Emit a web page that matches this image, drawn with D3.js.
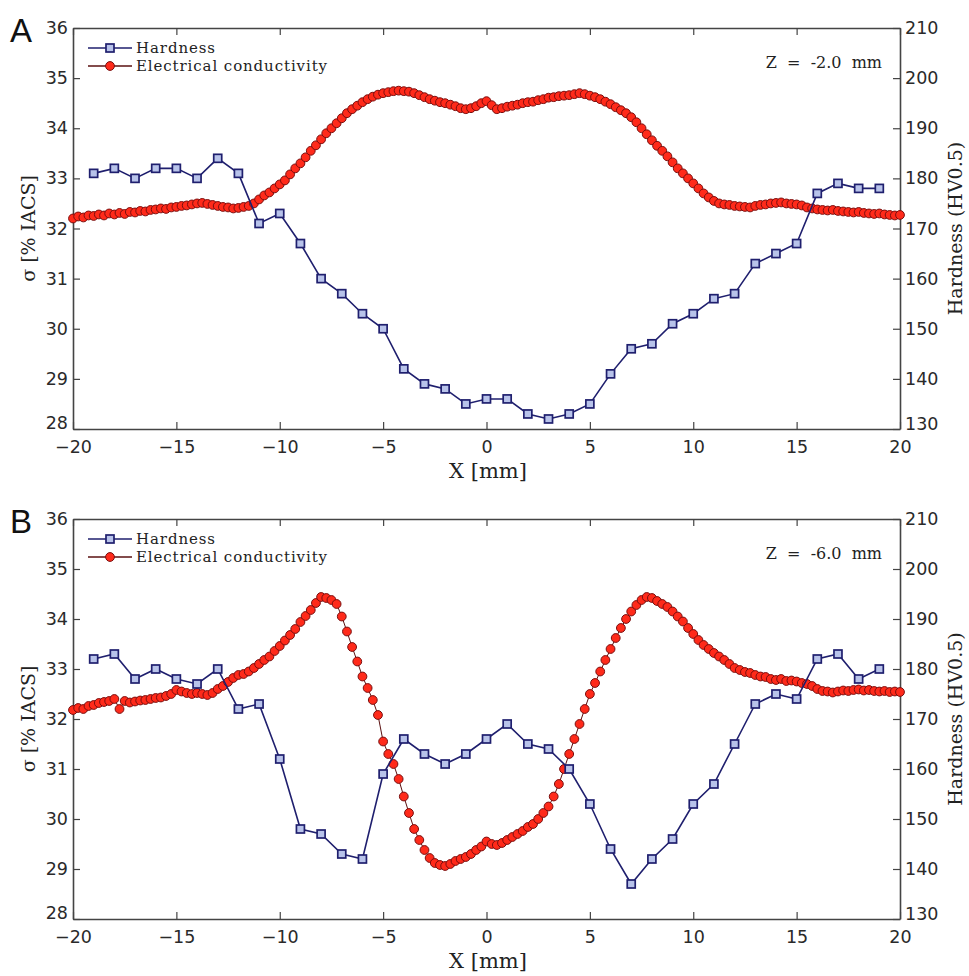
<!DOCTYPE html>
<html>
<head>
<meta charset="utf-8">
<script src="https://cdn.jsdelivr.net/npm/d3@7"></script>
<style>
  body { margin: 0; background: #fff; }
  svg { display: block; }
  .tick text { font-family: "DejaVu Sans", sans-serif; font-size: 17.5px; fill: #2a2a2a; }
  .serif { font-family: "DejaVu Serif", serif; fill: #222; }
</style>
</head>
<body>
<div id="chart"></div>
<script>
// x positions of hardness indents (mm)
const hardX = [-19,-18,-17,-16,-15,-14,-13,-12,-11,-10,-9,-8,-7,-6,-5,-4,-3,-2,-1,0,
  1,2,3,4,5,6,7,8,9,10,11,12,13,14,15,16,17,18,19];

// panel A, Z = -2.0 mm
const hardA = [181,182,180,182,182,180,184,181,171,173,167,160,157,153,150,142,139,138,135,136,
  136,133,132,133,135,141,146,147,151,153,156,157,163,165,167,177,179,178,178];
const condA = [
  32.20,32.24,32.22,32.26,32.25,32.28,32.26,32.30,32.28,32.31,32.29,32.33,32.32,32.35,32.34,32.37,
  32.38,32.40,32.39,32.42,32.43,32.45,32.46,32.48,32.50,32.51,32.49,32.47,32.45,32.43,32.42,32.40,
  32.41,32.43,32.45,32.50,32.58,32.66,32.72,32.80,32.88,32.96,33.08,33.20,33.30,33.42,33.55,33.66,
  33.78,33.90,34.00,34.10,34.20,34.30,34.38,34.45,34.52,34.58,34.63,34.67,34.70,34.72,34.74,34.75,
  34.74,34.73,34.70,34.66,34.62,34.58,34.55,34.52,34.50,34.47,34.44,34.40,34.38,34.40,34.44,34.50,
  34.54,34.46,34.38,34.40,34.43,34.45,34.47,34.50,34.52,34.53,34.56,34.58,34.61,34.62,34.64,34.65,
  34.66,34.68,34.70,34.68,34.65,34.62,34.58,34.53,34.48,34.42,34.36,34.30,34.22,34.12,34.00,33.88,
  33.76,33.65,33.55,33.44,33.32,33.20,33.10,33.00,32.90,32.80,32.70,32.62,32.55,32.50,32.48,32.47,
  32.45,32.44,32.43,32.42,32.45,32.47,32.48,32.50,32.51,32.52,32.50,32.49,32.48,32.46,32.42,32.40,
  32.38,32.37,32.36,32.37,32.35,32.34,32.33,32.32,32.33,32.31,32.30,32.29,32.30,32.28,32.27,32.26,
  32.27];

// panel B, Z = -6.0 mm
const hardB = [182,183,178,180,178,177,180,172,173,162,148,147,143,142,159,166,163,161,163,166,
  169,165,164,160,153,144,137,142,146,153,157,165,173,175,174,182,183,178,180];
const condB = [
  32.18,32.22,32.20,32.26,32.28,32.32,32.34,32.36,32.40,32.20,32.36,32.33,32.35,32.37,32.38,32.40,
  32.42,32.43,32.46,32.50,32.58,32.55,32.52,32.50,32.52,32.50,32.48,32.52,32.60,32.66,32.74,32.82,
  32.88,32.90,32.95,33.02,33.10,33.18,33.25,33.36,33.46,33.57,33.68,33.80,33.94,34.06,34.18,34.32,
  34.44,34.42,34.38,34.30,34.05,33.75,33.44,33.15,32.85,32.62,32.38,32.08,31.55,31.30,31.10,30.80,
  30.45,30.12,29.80,29.58,29.38,29.22,29.12,29.08,29.06,29.10,29.16,29.20,29.24,29.30,29.38,29.45,
  29.55,29.50,29.48,29.52,29.58,29.64,29.70,29.76,29.84,29.90,30.00,30.12,30.25,30.45,30.70,31.00,
  31.30,31.60,31.90,32.20,32.50,32.72,32.95,33.18,33.40,33.62,33.82,34.00,34.15,34.28,34.38,34.44,
  34.42,34.36,34.30,34.24,34.15,34.05,33.95,33.82,33.70,33.58,33.48,33.40,33.32,33.25,33.18,33.10,
  33.02,32.98,32.94,32.92,32.88,32.85,32.84,32.80,32.78,32.80,32.76,32.77,32.75,32.72,32.70,32.66,
  32.60,32.56,32.55,32.53,32.55,32.57,32.56,32.58,32.59,32.57,32.58,32.56,32.55,32.56,32.54,32.55,
  32.54];

// conductivity measured every 0.25 mm from -20 to 20
const condX = d3.range(161).map(i => -20 + i * 0.25);

const xTicks = [-20,-15,-10,-5,0,5,10,15,20];
const sigmaTicks = [28,29,30,31,32,33,34,35,36];
const hvTicks = [130,140,150,160,170,180,190,200,210];

const W = 969, H = 976;
const svg = d3.select("#chart").append("svg").attr("width", W).attr("height", H);
svg.append("rect").attr("width", W).attr("height", H).attr("fill", "#fff");

const left = 73, right = 900;
const hardColor = "#1f1f6e";
const condFill = "#ff2a1a";
const condEdge = "#7a0e0e";

function drawPanel(top, bottom, letter, zText, hard, cond) {
  const g = svg.append("g");
  const x = d3.scaleLinear().domain([-20, 20]).range([left, right]);
  const yL = d3.scaleLinear().domain([28, 36]).range([bottom, top]);
  const yR = d3.scaleLinear().domain([130, 210]).range([bottom, top]);

  // axes, matlab-like ticks pointing inward
  const axB = g.append("g").attr("transform", "translate(0," + bottom + ")")
    .call(d3.axisBottom(x).tickValues(xTicks).tickSizeInner(-7).tickSizeOuter(0).tickPadding(12)
      .tickFormat(d => d < 0 ? "\u2212" + Math.abs(d) : d));
  const axT = g.append("g").attr("transform", "translate(0," + top + ")")
    .call(d3.axisTop(x).tickValues(xTicks).tickSizeInner(-7).tickSizeOuter(0).tickFormat(""));
  const axL = g.append("g").attr("transform", "translate(" + left + ",0)")
    .call(d3.axisLeft(yL).tickValues(sigmaTicks).tickSizeInner(-7).tickSizeOuter(0).tickPadding(5));
  const axR = g.append("g").attr("transform", "translate(" + right + ",0)")
    .call(d3.axisRight(yR).tickValues(hvTicks).tickSizeInner(-7).tickSizeOuter(0).tickPadding(5));
  [axB, axT, axL, axR].forEach(a => {
    a.select(".domain").attr("stroke", "#444").attr("stroke-width", 1.6);
    a.selectAll(".tick line").attr("stroke", "#444").attr("stroke-width", 1.2);
  });
  // matlab nudges the corner labels
  axL.selectAll(".tick text").filter(d => d === 28).attr("dy", "-0.05em");
  axR.selectAll(".tick text").filter(d => d === 130).attr("dy", "0.05em");

  // conductivity
  const condPts = condX.map((v, i) => [v, cond[i]]);
  g.append("path").datum(condPts)
    .attr("fill", "none").attr("stroke", "#5a1010").attr("stroke-width", 1)
    .attr("d", d3.line().x(d => x(d[0])).y(d => yL(d[1])));
  g.selectAll(".cond").data(condPts).enter().append("circle")
    .attr("class", "cond")
    .attr("cx", d => x(d[0])).attr("cy", d => yL(d[1])).attr("r", 4.4)
    .attr("fill", condFill).attr("stroke", condEdge).attr("stroke-width", 1);

  // hardness
  const hardPts = hardX.map((v, i) => [v, hard[i]]);
  g.append("path").datum(hardPts)
    .attr("fill", "none").attr("stroke", hardColor).attr("stroke-width", 1.6)
    .attr("d", d3.line().x(d => x(d[0])).y(d => yR(d[1])));
  g.selectAll(".hard").data(hardPts).enter().append("rect")
    .attr("class", "hard")
    .attr("x", d => x(d[0]) - 4).attr("y", d => yR(d[1]) - 4)
    .attr("width", 8).attr("height", 8)
    .attr("fill", "#b8c3ea").attr("stroke", hardColor).attr("stroke-width", 1.7);

  // legend
  const lg = g.append("g");
  [["Hardness", "hard"], ["Electrical conductivity", "cond"]].forEach((item, i) => {
    const ly = top + 20 + i * 18;
    lg.append("line").attr("x1", 88).attr("x2", 132).attr("y1", ly).attr("y2", ly)
      .attr("stroke", item[1] === "hard" ? hardColor : "#5a1010").attr("stroke-width", 1.6);
    if (item[1] === "hard") {
      lg.append("rect").attr("x", 106).attr("y", ly - 4).attr("width", 8).attr("height", 8)
        .attr("fill", "#b8c3ea").attr("stroke", hardColor).attr("stroke-width", 1.7);
    } else {
      lg.append("circle").attr("cx", 110).attr("cy", ly).attr("r", 4.4)
        .attr("fill", condFill).attr("stroke", condEdge).attr("stroke-width", 1);
    }
    lg.append("text").attr("class", "serif").attr("x", 136).attr("y", ly + 5)
      .style("font-size", "15px").style("letter-spacing", "0.9px").text(item[0]);
  });

  g.append("text").attr("class", "serif").attr("x", 882).attr("y", top + 40)
    .attr("text-anchor", "end").style("font-size", "16px").style("white-space", "pre")
    .text(zText);

  // axis titles
  const mid = (top + bottom) / 2;
  g.append("text").attr("class", "serif")
    .attr("transform", "translate(35," + mid + ") rotate(-90)")
    .attr("text-anchor", "middle").style("font-size", "19px").text("\u03c3  [% IACS]");
  g.append("text").attr("class", "serif")
    .attr("transform", "translate(962," + mid + ") rotate(-90)")
    .attr("text-anchor", "middle").style("font-size", "19px").text("Hardness (HV0.5)");
  g.append("text").attr("class", "serif")
    .attr("x", 488).attr("y", bottom + 49)
    .attr("text-anchor", "middle").style("font-size", "21px").text("X [mm]");

  g.append("text").attr("x", 10).attr("y", top + 14)
    .style("font-family", "'Liberation Sans', Arial, sans-serif").style("font-size", "33px")
    .attr("fill", "#111").text(letter);
}

drawPanel(28, 429, "A", "Z  =  -2.0  mm", hardA, condA);
drawPanel(519, 919, "B", "Z  =  -6.0  mm", hardB, condB);
</script>
</body>
</html>
